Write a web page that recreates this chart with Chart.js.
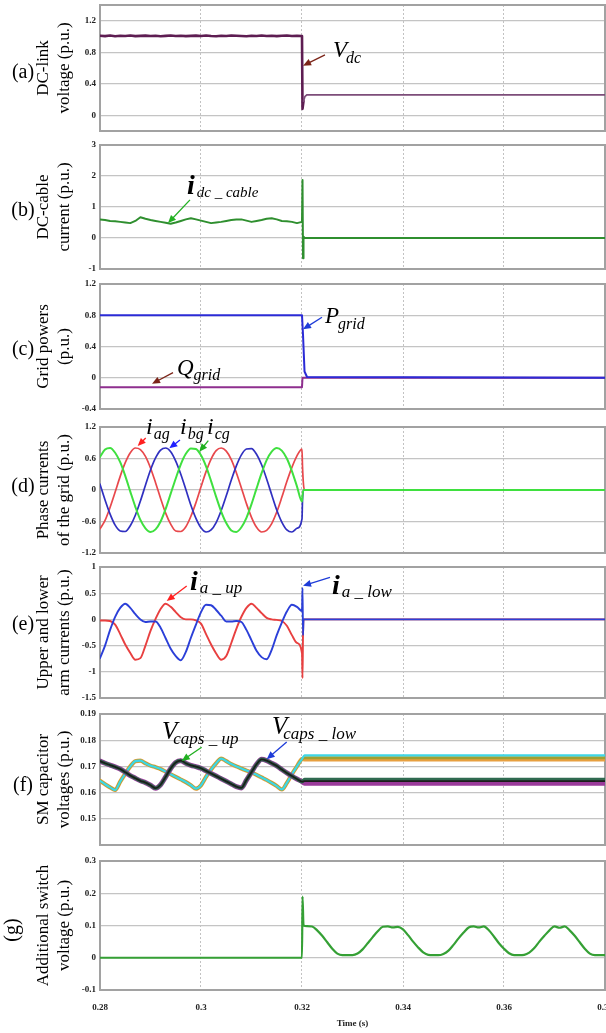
<!DOCTYPE html>
<html><head><meta charset="utf-8">
<script src="https://cdn.jsdelivr.net/npm/chart.js@4.4.0/dist/chart.umd.min.js"></script>
<style>
html,body{margin:0;padding:0;background:#fff;overflow:hidden;width:606px;height:1033px;position:relative;}
canvas{position:absolute;left:0;}
</style></head><body>
<script>
// ---------- DATA ----------
const T_PRE = [0.280,0.281,0.282,0.283,0.284,0.285,0.286,0.287,0.288,0.289,0.290,0.291,0.292,0.293,0.294,0.295,0.296,0.297,0.298,0.299,0.300,0.301,0.302,0.303,0.304,0.305,0.306,0.307,0.308,0.309,0.310,0.311,0.312,0.313,0.314,0.315,0.316,0.317,0.318,0.319,0.320];
const X_TICKS = [0.28,0.30,0.32,0.34,0.36,0.38];

// (a) DC-link voltage
const vdcTime = [...T_PRE, 0.3201, 0.3203, 0.3206, 0.3210, 0.3220, 0.3800];
const vdcValues = [1.010,1.005,1.012,1.004,1.009,1.006,1.013,1.005,1.008,1.011,1.006,1.009,1.004,1.008,1.012,1.006,1.010,1.005,1.008,1.011,1.007,1.012,1.006,1.004,1.010,1.007,1.012,1.009,1.006,1.004,1.010,1.007,1.012,1.006,1.010,1.005,1.009,1.012,1.006,1.010,1.007, 0.08,0.18,0.24,0.26,0.26,0.26];
const yTicksA = [0,0.4,0.8,1.2];

// (b) DC-cable current
const idcTime = [...T_PRE, 0.3201, 0.3202, 0.3203, 0.3205, 0.3800];
const idcValues = [0.60,0.58,0.55,0.54,0.52,0.50,0.48,0.55,0.67,0.62,0.58,0.55,0.52,0.49,0.46,0.50,0.55,0.60,0.64,0.60,0.56,0.52,0.48,0.50,0.52,0.55,0.58,0.60,0.60,0.56,0.52,0.55,0.58,0.62,0.64,0.60,0.55,0.54,0.52,0.48,0.52, 1.87,-0.65,0.05,0.00,0.00];
const yTicksB = [-1,0,1,2,3];

// (c) Grid powers
const pGridTime = [0.280,0.320,0.3202,0.3205,0.3210,0.380];
const pGridValues = [0.80,0.80,0.55,0.08,0.01,0.00];
const qGridTime = [0.280,0.320,0.3201,0.380];
const qGridValues = [-0.12,-0.12,0.00,0.00];
const yTicksC = [-0.4,0,0.4,0.8,1.2];

// (d) Phase currents of the grid
const phaseTime = [...T_PRE, 0.3201, 0.3203, 0.3205, 0.3800];
const iagValues = [-0.74,-0.58,-0.33,-0.04,0.26,0.52,0.71,0.80,0.77,0.64,0.42,0.14,-0.16,-0.44,-0.65,-0.78,-0.79,-0.70,-0.50,-0.24,0.06,0.35,0.59,0.75,0.80,0.74,0.58,0.33,0.04,-0.26,-0.52,-0.71,-0.80,-0.77,-0.64,-0.42,-0.14,0.16,0.43,0.65,0.78, 0.45,0.10,0.00,0.00];
const ibgValues = [0.11,-0.19,-0.46,-0.67,-0.78,-0.79,-0.68,-0.48,-0.21,0.09,0.38,0.61,0.76,0.80,0.73,0.55,0.30,0.01,-0.29,-0.54,-0.72,-0.80,-0.76,-0.62,-0.39,-0.11,0.19,0.46,0.67,0.78,0.79,0.68,0.48,0.21,-0.09,-0.38,-0.61,-0.76,-0.80,-0.73,-0.55, -0.20,0.00,0.00,0.00];
const icgValues = [0.63,0.77,0.80,0.71,0.53,0.27,-0.03,-0.32,-0.57,-0.73,-0.80,-0.75,-0.60,-0.36,-0.07,0.22,0.49,0.69,0.79,0.78,0.66,0.45,0.17,-0.13,-0.41,-0.63,-0.77,-0.80,-0.71,-0.53,-0.27,0.03,0.32,0.57,0.73,0.80,0.75,0.60,0.36,0.07,-0.22, -0.10,0.00,0.00,0.00];
const yTicksD = [-1.2,-0.6,0,0.6,1.2];

// (e) Upper and lower arm currents
const armTime = [...T_PRE, 0.3201, 0.3202, 0.3203, 0.3800];
const iaUpValues = [-0.02,-0.02,-0.03,-0.10,-0.28,-0.48,-0.64,-0.77,-0.74,-0.50,-0.22,0.01,0.20,0.30,0.24,0.14,0.04,0.00,0.00,-0.02,-0.08,-0.28,-0.48,-0.65,-0.77,-0.70,-0.45,-0.18,0.05,0.22,0.30,0.22,0.12,0.03,0.00,-0.01,-0.03,-0.12,-0.30,-0.45,-0.65, -1.12,-0.30,0.00,0.00];
const iaLowValues = [-0.74,-0.50,-0.20,0.05,0.22,0.30,0.22,0.10,0.00,-0.05,-0.04,-0.04,-0.16,-0.36,-0.56,-0.70,-0.78,-0.62,-0.35,-0.10,0.14,0.28,0.27,0.18,0.07,-0.04,-0.04,-0.03,-0.05,-0.20,-0.40,-0.60,-0.72,-0.76,-0.58,-0.30,-0.06,0.15,0.28,0.24,0.16, 0.60,-0.30,0.00,0.00];
const yTicksE = [-1.5,-1,-0.5,0,0.5,1];

// (f) SM capacitor voltages
const capTime = [...T_PRE, 0.3205, 0.3800];
const capsUpWave = [0.1720,0.1712,0.1705,0.1698,0.1690,0.1678,0.1665,0.1655,0.1645,0.1638,0.1628,0.1617,0.1630,0.1660,0.1692,0.1715,0.1722,0.1712,0.1704,0.1699,0.1693,0.1683,0.1673,0.1663,0.1653,0.1643,0.1633,0.1623,0.1618,0.1648,0.1678,0.1708,0.1727,0.1722,0.1712,0.1702,0.1688,0.1675,0.1663,0.1652,0.1642];
const capsLowWave = [0.1645,0.1632,0.1620,0.1610,0.1642,0.1672,0.1700,0.1720,0.1722,0.1712,0.1703,0.1697,0.1690,0.1680,0.1670,0.1660,0.1650,0.1640,0.1628,0.1615,0.1628,0.1660,0.1688,0.1712,0.1730,0.1720,0.1709,0.1700,0.1692,0.1684,0.1677,0.1668,0.1658,0.1648,0.1637,0.1625,0.1612,0.1637,0.1670,0.1700,0.1728];
const capUpPurplePost = [0.1636,0.1636];
const capUpGreenPost = [0.1650,0.1650];
const capUpBlackPost = [0.1644,0.1644];
const capLowOrangePost = [0.1727,0.1727];
const capLowOlivePost = [0.1733,0.1733];
const capLowCyanPost = [0.1742,0.1742];
const yTicksF = [0.15,0.16,0.17,0.18,0.19];

// (g) Additional switch voltage
const swTime = [0.280,0.320,0.3201,0.3203,0.321,0.322,0.323,0.324,0.325,0.326,0.327,0.328,0.329,0.330,0.331,0.332,0.333,0.334,0.335,0.336,0.337,0.338,0.339,0.340,0.341,0.342,0.343,0.344,0.345,0.346,0.347,0.348,0.349,0.350,0.351,0.352,0.353,0.354,0.355,0.356,0.357,0.358,0.359,0.360,0.361,0.362,0.363,0.364,0.365,0.366,0.367,0.368,0.369,0.370,0.371,0.372,0.373,0.374,0.375,0.376,0.377,0.378,0.379,0.380];
const swValues = [0,0,0.19,0.10,0.098,0.097,0.085,0.068,0.048,0.028,0.013,0.008,0.008,0.008,0.013,0.026,0.045,0.064,0.082,0.096,0.097,0.094,0.096,0.088,0.070,0.050,0.032,0.017,0.009,0.008,0.008,0.012,0.022,0.040,0.060,0.078,0.094,0.097,0.094,0.097,0.085,0.066,0.045,0.028,0.014,0.008,0.008,0.009,0.016,0.030,0.050,0.068,0.085,0.097,0.093,0.097,0.085,0.068,0.048,0.028,0.013,0.008,0.008,0.008];
const yTicksG = [-0.1,0,0.1,0.2,0.3];

// ---------- HELPERS ----------
const pts = (ts, vs) => ts.map((t, i) => ({x: t, y: vs[i]}));
const fmt = v => String(Math.round(v * 100) / 100);
const SERIF = "'Liberation Serif','Times New Roman',serif";
const PAD = 16;

const framePlugin = {
  id: 'frame',
  beforeDatasetsDraw(chart) {
    const a = chart.chartArea, ctx = chart.ctx;
    ctx.save();
    ctx.strokeStyle = '#a2a2a2';
    ctx.lineWidth = 2;
    ctx.strokeRect(a.left, a.top, a.right - a.left, a.bottom - a.top);
    ctx.restore();
  }
};

const annotPlugin = {
  id: 'annot',
  afterDraw(chart, args, opts) {
    const ctx = chart.ctx, xs = chart.scales.x, ys = chart.scales.y;
    ctx.save();
    (opts.arrows || []).forEach(ar => {
      const x1 = xs.getPixelForValue(ar.from[0]), y1 = ys.getPixelForValue(ar.from[1]);
      const x2 = xs.getPixelForValue(ar.to[0]), y2 = ys.getPixelForValue(ar.to[1]);
      const ang = Math.atan2(y2 - y1, x2 - x1);
      const L = 8, W = 3.5;
      ctx.strokeStyle = ar.color; ctx.fillStyle = ar.color; ctx.lineWidth = 1.3;
      ctx.beginPath(); ctx.moveTo(x1, y1);
      ctx.lineTo(x2 - Math.cos(ang) * L * 0.8, y2 - Math.sin(ang) * L * 0.8); ctx.stroke();
      ctx.beginPath();
      ctx.moveTo(x2, y2);
      ctx.lineTo(x2 - Math.cos(ang) * L - Math.sin(ang) * W, y2 - Math.sin(ang) * L + Math.cos(ang) * W);
      ctx.lineTo(x2 - Math.cos(ang) * L + Math.sin(ang) * W, y2 - Math.sin(ang) * L - Math.cos(ang) * W);
      ctx.closePath(); ctx.fill();
    });
    (opts.labels || []).forEach(lb => {
      const x = xs.getPixelForValue(lb.at[0]), y = ys.getPixelForValue(lb.at[1]);
      ctx.fillStyle = '#000';
      ctx.textBaseline = 'alphabetic'; ctx.textAlign = 'left';
      ctx.font = (lb.bold ? 'bold ' : '') + 'italic ' + lb.size + 'px ' + SERIF;
      ctx.fillText(lb.main, x, y);
      const w = ctx.measureText(lb.main).width;
      ctx.font = 'italic ' + lb.subSize + 'px ' + SERIF;
      ctx.fillText(lb.sub, x + w + (lb.dx || 0), y + (lb.dy || 0));
    });
    if (opts.tag) {
      ctx.font = '20px ' + SERIF;
      ctx.fillStyle = '#000';
      ctx.textBaseline = 'middle';
      ctx.textAlign = 'center';
      const tx = opts.tag.x, ty = opts.tag.y - opts.canvasTop;
      if (opts.tag.rot) {
        ctx.translate(tx, ty); ctx.rotate(-Math.PI / 2); ctx.fillText(opts.tag.text, 0, 0);
      } else {
        ctx.fillText(opts.tag.text, tx, ty);
      }
    }
    ctx.restore();
  }
};

function panel(cfg) {
  const canvasTop = cfg.top - PAD;
  const bottomExtra = cfg.xLabels ? 43 : PAD;
  const h = cfg.bottom - cfg.top + PAD + bottomExtra;
  const c = document.createElement('canvas');
  c.width = 625; c.height = h;
  c.style.top = canvasTop + 'px';
  c.style.width = '625px'; c.style.height = h + 'px';
  document.body.appendChild(c);
  const tickFont = {family: SERIF, size: 9, weight: 'bold'};
  new Chart(c, {
    type: 'line',
    data: {datasets: cfg.datasets},
    options: {
      responsive: false, animation: false, devicePixelRatio: 1,
      layout: {padding: {left: 0, right: 20, top: PAD, bottom: cfg.xLabels ? 3 : PAD}},
      elements: {point: {radius: 0}, line: {borderJoinStyle: 'round', borderCapStyle: 'round'}},
      plugins: {
        legend: {display: false}, tooltip: {enabled: false},
        annot: Object.assign({canvasTop}, cfg.annot)
      },
      scales: {
        x: {
          type: 'linear', min: 0.28, max: 0.38,
          afterBuildTicks: s => { s.ticks = X_TICKS.map(v => ({value: v})); },
          afterFit: s => { s.height = cfg.xLabels ? 40 : 0; },
          grid: {color: '#c2c2c2', lineWidth: 1, drawTicks: false},
          border: {display: false, dash: [2, 2]},
          ticks: {display: !!cfg.xLabels, padding: 12, font: tickFont, color: '#222', callback: v => fmt(v), maxRotation: 0, autoSkip: false},
          title: {display: !!cfg.xLabels, text: 'Time (s)', font: {family: SERIF, size: 9, weight: 'bold'}, color: '#222', padding: {top: 0, bottom: 1}}
        },
        y: {
          min: cfg.yMin, max: cfg.yMax,
          afterBuildTicks: s => { s.ticks = cfg.yTicks.map(v => ({value: v})); },
          afterFit: s => { s.width = 100; },
          grid: {color: '#c4c4c4', lineWidth: 1.2, drawTicks: false},
          border: {display: false},
          ticks: {padding: 4, font: tickFont, color: '#222', callback: v => fmt(v), autoSkip: false},
          title: {display: true, text: cfg.title, color: '#000', font: {family: SERIF, size: 17, lineHeight: 1.25}, padding: {top: 33, bottom: 0}}
        }
      }
    },
    plugins: [framePlugin, annotPlugin]
  });
}

// Note: Chart.js paints dataset 0 on top, so the top-most trace is listed first.
const ds = (ts, vs, color, w, extra) => Object.assign({data: pts(ts, vs), borderColor: color, borderWidth: w, fill: false, pointRadius: 0}, extra || {});
const mono = {cubicInterpolationMode: 'monotone'};

// (a)
panel({top: 5, bottom: 131, yMin: -0.2, yMax: 1.4, yTicks: yTicksA, title: ['DC-link', 'voltage (p.u.)'],
  datasets: [ds(vdcTime, vdcValues, '#5e1d52', 2.6, {segment: {borderColor: ctx => ctx.p0.parsed.x >= 0.3202 ? '#7d4d7a' : undefined, borderWidth: ctx => ctx.p0.parsed.x >= 0.3202 ? 1.7 : undefined}})],
  annot: {tag: {text: '(a)', x: 23, y: 73},
    labels: [{main: 'V', sub: 'dc', at: [0.32614, 0.74], size: 23, subSize: 16, dy: 6, dx: -1}],
    arrows: [{from: [0.32455, 0.766], to: [0.3202, 0.63], color: '#7b2418'}]}
});

// (b)
panel({top: 145, bottom: 269, yMin: -1, yMax: 3, yTicks: yTicksB, title: ['DC-cable', 'current (p.u.)'],
  datasets: [ds(idcTime, idcValues, '#2f8f2f', 2)],
  annot: {tag: {text: '(b)', x: 23, y: 211},
    labels: [{main: 'i', sub: 'dc _ cable', at: [0.29723, 1.42], size: 28, bold: true, subSize: 15, dy: 3, dx: 2}],
    arrows: [{from: [0.29782, 1.23], to: [0.29347, 0.48], color: '#22b022'}]}
});

// (c)
panel({top: 284, bottom: 409, yMin: -0.4, yMax: 1.2, yTicks: yTicksC, title: ['Grid powers', '(p.u.)'],
  datasets: [ds(pGridTime, pGridValues, '#2b2bd6', 2), ds(qGridTime, qGridValues, '#8f2f8f', 2)],
  annot: {tag: {text: '(c)', x: 23, y: 350},
    labels: [{main: 'P', sub: 'grid', at: [0.32455, 0.70], size: 23, subSize: 16, dy: 6, dx: -1},
             {main: 'Q', sub: 'grid', at: [0.29525, 0.03], size: 23, subSize: 16, dy: 5, dx: 0}],
    arrows: [{from: [0.32396, 0.774], to: [0.3202, 0.62], color: '#1e3cd8'},
             {from: [0.29446, 0.065], to: [0.29030, -0.077], color: '#7b2418'}]}
});

// (d)
panel({top: 427, bottom: 553, yMin: -1.2, yMax: 1.2, yTicks: yTicksD, title: ['Phase currents', 'of the grid (p.u.)'],
  datasets: [ds(phaseTime, icgValues, '#3fe03f', 2, mono), ds(phaseTime, ibgValues, '#3030c0', 1.7, mono), ds(phaseTime, iagValues, '#e8484c', 1.7, mono)],
  annot: {tag: {text: '(d)', x: 23, y: 487},
    labels: [{main: 'i', sub: 'ag', at: [0.28911, 1.067], size: 24, subSize: 16, dy: 5, dx: 1},
             {main: 'i', sub: 'bg', at: [0.29584, 1.067], size: 24, subSize: 16, dy: 5, dx: 1},
             {main: 'i', sub: 'cg', at: [0.30119, 1.067], size: 24, subSize: 16, dy: 5, dx: 1}],
    arrows: [{from: [0.28905, 0.99], to: [0.28746, 0.838], color: '#ff2020'},
             {from: [0.29584, 0.952], to: [0.29372, 0.794], color: '#2020ff'},
             {from: [0.30145, 0.939], to: [0.29966, 0.73], color: '#20b020'}]}
});

// (e)
panel({top: 567, bottom: 698, yMin: -1.5, yMax: 1, yTicks: yTicksE, title: ['Upper and lower', 'arm currents (p.u.)'],
  datasets: [ds(armTime, iaLowValues, '#2b3fd8', 1.9, mono), ds(armTime, iaUpValues, '#e84040', 1.9, mono)],
  annot: {tag: {text: '(e)', x: 23, y: 625},
    labels: [{main: 'i', sub: 'a _ up', at: [0.29782, 0.567], size: 28, bold: true, subSize: 17, dy: 3, dx: 2},
             {main: 'i', sub: 'a _ low', at: [0.32594, 0.49], size: 28, bold: true, subSize: 17, dy: 3, dx: 2}],
    arrows: [{from: [0.29717, 0.638], to: [0.29321, 0.35], color: '#ff2020'},
             {from: [0.32554, 0.80], to: [0.3202, 0.644], color: '#1e3cd8'}]}
});

// (f)
panel({top: 714, bottom: 845, yMin: 0.14, yMax: 0.19, yTicks: yTicksF, title: ['SM capacitor', 'voltages (p.u.)'],
  datasets: [
    ds(capTime, [...capsUpWave, ...capUpBlackPost], '#1c1c1c', 1.8, mono),
    ds(capTime, [...capsUpWave, ...capUpGreenPost], '#2f6a50', 3.6, mono),
    ds(capTime, [...capsUpWave, ...capUpPurplePost], '#9a3a9a', 5, mono),
    ds(capTime, [...capsLowWave, ...capLowCyanPost], '#3fd6e6', 2.2, mono),
    ds(capTime, [...capsLowWave, ...capLowOlivePost], '#a0a032', 3, mono),
    ds(capTime, [...capsLowWave, ...capLowOrangePost], '#e8a040', 4.2, mono)
  ],
  annot: {tag: {text: '(f)', x: 23, y: 786},
    labels: [{main: 'V', sub: 'caps _ up', at: [0.29228, 0.18059], size: 25, subSize: 17, dy: 5, dx: -4},
             {main: 'V', sub: 'caps _ low', at: [0.31406, 0.18255], size: 25, subSize: 17, dy: 5, dx: -4}],
    arrows: [{from: [0.30013, 0.17733], to: [0.29618, 0.17208], color: '#20b020'},
             {from: [0.31697, 0.17929], to: [0.31301, 0.17275], color: '#1e3cd8'}]}
});

// (g)
panel({top: 861, bottom: 990, yMin: -0.1, yMax: 0.3, yTicks: yTicksG, title: ['Additional switch', 'voltage (p.u.)'], xLabels: true,
  datasets: [ds(swTime, swValues, '#35a035', 2.2, mono)],
  annot: {tag: {text: '(g)', x: 13, y: 930, rot: true}}
});
</script>
</body></html>
